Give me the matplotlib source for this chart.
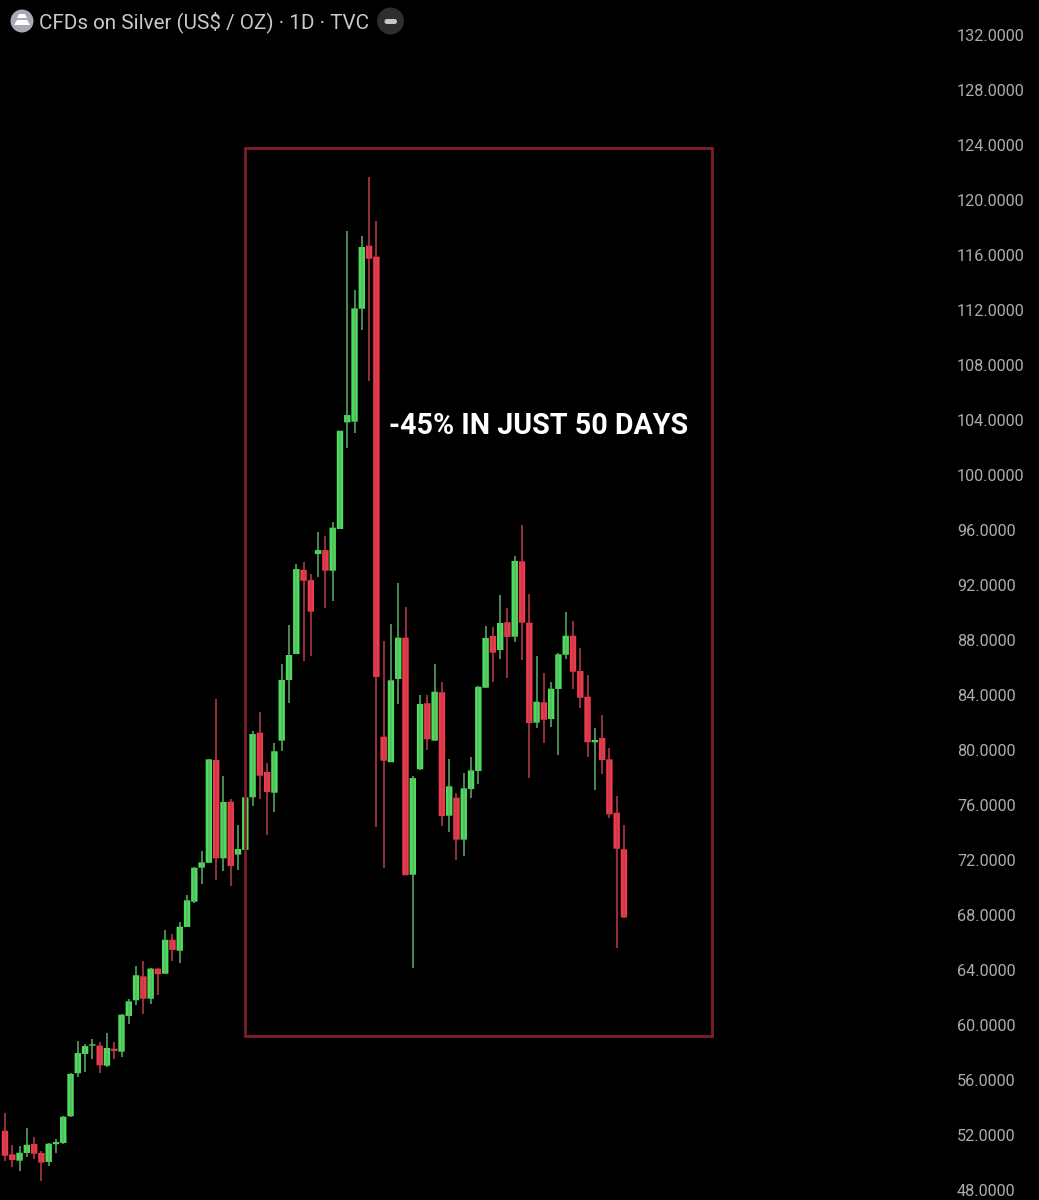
import matplotlib
matplotlib.use("Agg")
import matplotlib.pyplot as plt
from matplotlib.patches import Rectangle, Circle, Polygon, FancyBboxPatch
import numpy as np

opens = [52.31,50.59,50.13,50.69,51.35,50.69,50.04,51.33,51.42,53.36,
         56.49,57.89,58.50,58.50,57.04,58.28,58.06,60.66,61.80,63.54,
         61.91,64.10,63.73,66.20,65.40,67.13,68.97,71.44,71.80,79.27,
         72.12,76.24,72.39,72.73,76.56,81.26,78.40,76.89,80.68,85.09,
         86.98,93.11,92.36,94.25,94.54,93.04,96.07,103.83,103.88,112.09,
         116.68,115.88,80.97,79.11,85.16,88.17,70.93,78.60,83.40,80.68,
         84.20,75.22,76.53,73.48,77.16,78.47,84.53,88.29,87.27,89.29,
         88.24,93.72,89.26,81.99,83.47,82.25,84.44,86.93,88.31,85.75,
         83.88,80.56,80.87,79.32,75.44,72.78]
highs = [53.58,51.29,51.20,52.49,51.88,50.84,51.44,51.73,53.38,56.53,
         58.86,58.62,59.00,58.76,59.40,58.76,60.80,61.89,64.29,64.66,
         64.17,64.17,66.89,66.62,67.47,69.45,71.51,72.68,79.32,83.73,
         78.11,76.41,74.55,76.56,81.40,82.74,79.03,80.53,86.23,89.09,
         93.50,93.65,92.80,95.85,95.56,96.56,103.22,117.75,113.45,117.40,
         121.65,118.45,87.93,89.16,92.17,90.42,78.13,84.00,83.98,86.28,
         84.92,79.37,76.89,78.35,79.51,84.68,89.04,88.92,91.27,90.31,
         94.13,96.39,91.32,86.84,85.58,84.97,87.03,90.01,89.40,87.40,
         85.48,81.60,82.52,80.15,76.65,74.55]
lows = [50.13,49.65,49.40,50.42,50.28,48.68,49.77,50.71,51.37,53.33,
        56.22,56.60,57.55,56.53,56.92,57.55,57.65,60.10,61.48,60.82,
        61.51,62.16,63.73,64.68,64.53,67.13,68.90,70.25,71.80,70.55,
        71.20,70.11,71.27,72.73,75.95,76.41,73.84,75.49,79.95,83.44,
        86.98,86.45,86.86,92.60,90.35,90.84,96.07,101.98,103.03,110.55,
        106.84,74.42,71.44,79.11,83.32,70.89,64.12,78.55,80.00,80.68,
        74.47,74.02,72.00,72.31,76.51,77.53,84.53,84.97,86.64,85.26,
        87.83,86.55,77.98,81.60,80.53,81.70,79.66,86.62,84.46,83.08,
        79.47,77.09,78.25,75.08,65.58,67.76]
closes = [50.49,50.18,50.71,51.29,50.64,49.99,51.37,51.49,53.33,56.44,
          57.96,58.47,58.60,57.07,58.33,58.11,60.75,61.72,63.62,61.91,
          64.10,63.69,66.20,65.46,67.15,69.07,71.44,71.83,79.32,72.12,
          76.22,71.56,72.80,76.56,81.16,78.13,76.95,79.91,85.09,86.91,
          93.16,92.31,90.06,94.54,93.04,96.17,103.22,104.36,112.12,116.58,
          115.73,85.31,79.22,85.07,88.17,70.89,77.96,83.35,80.78,84.24,
          75.20,77.36,73.48,77.21,78.52,84.60,88.15,87.08,89.24,88.22,
          93.75,89.26,81.96,83.51,82.20,84.46,86.96,88.31,85.69,83.80,
          80.56,80.73,79.27,75.32,72.82,67.83]
price_ticks = list(range(48, 136, 4))

title = "CFDs on Silver (US$ / OZ) \u00b7 1D \u00b7 TVC"
note = "-45% IN JUST 50 DAYS"

GREEN = "#4ade5a"
RED = "#f2394b"
GREEN_WICK = "#5fae69"
RED_WICK = "#bb3f4b"

plt.rcParams['font.family'] = ['Roboto', 'DejaVu Sans']

fig = plt.figure(figsize=(10.39, 12), dpi=100, facecolor="black")

# chart axes fill the whole picture, price scale sits inside it
ax = fig.add_axes([0, 0, 1, 1], facecolor="black")
x = np.arange(len(opens))
o = np.array(opens)
c = np.array(closes)
up = c >= o
ax.vlines(x[up], np.array(lows)[up], np.array(highs)[up], color=GREEN_WICK, lw=1.1)
ax.vlines(x[~up], np.array(lows)[~up], np.array(highs)[~up], color=RED_WICK, lw=1.1)
ax.bar(x[up], (c - o)[up], bottom=o[up], width=0.88, color=GREEN, linewidth=0, snap=False)
ax.bar(x[~up], (c - o)[~up], bottom=o[~up], width=0.88, color=RED, linewidth=0, snap=False)

ax.set_xlim(-5 / 7.282, (1039 - 5) / 7.282)
ax.set_ylim(132 - (1200 - 35) / 13.75, 132 + 35 / 13.75)
ax.yaxis.tick_right()
ax.set_yticks(price_ticks)
ax.set_yticklabels([f"{p:.4f}" for p in price_ticks], color="#ababab", fontsize=11.7)
ax.tick_params(axis='y', length=0, pad=-59)
ax.set_xticks([])
for s in ax.spines.values():
    s.set_visible(False)

# overlay in pixel coordinates for box, header and note
ov = fig.add_axes([0, 0, 1, 1], facecolor="none")
ov.set_xlim(0, 1039)
ov.set_ylim(1200, 0)
ov.axis("off")
ov.add_patch(Rectangle((245, 148), 466.5, 888, fill=False, edgecolor="#7e1f29", lw=2.0))
ov.text(389, 426, note, color="white", fontsize=20.6, fontweight="bold", ha="left", va="center")
ov.text(39, 22, title, color="#c9c9c9", fontsize=14.85, ha="left", va="center")

ov.add_patch(Circle((22, 21), 11.5, color="#a8a8b6", lw=0))
ov.add_patch(Polygon([(17, 20), (27, 20), (30, 25), (14, 25)], color="white", lw=0))
ov.add_patch(Polygon([(19, 14), (25, 14), (27, 18), (17, 18)], color="white", lw=0))
ov.add_patch(Circle((390.5, 21), 13.5, color="#2e2e2e", lw=0))
ov.add_patch(FancyBboxPatch((384.5, 19), 12.5, 5, boxstyle="round,pad=0,rounding_size=2.4",
                            color="#c8c8c8", lw=0))

fig.savefig("out.png", dpi=100, facecolor="black")
